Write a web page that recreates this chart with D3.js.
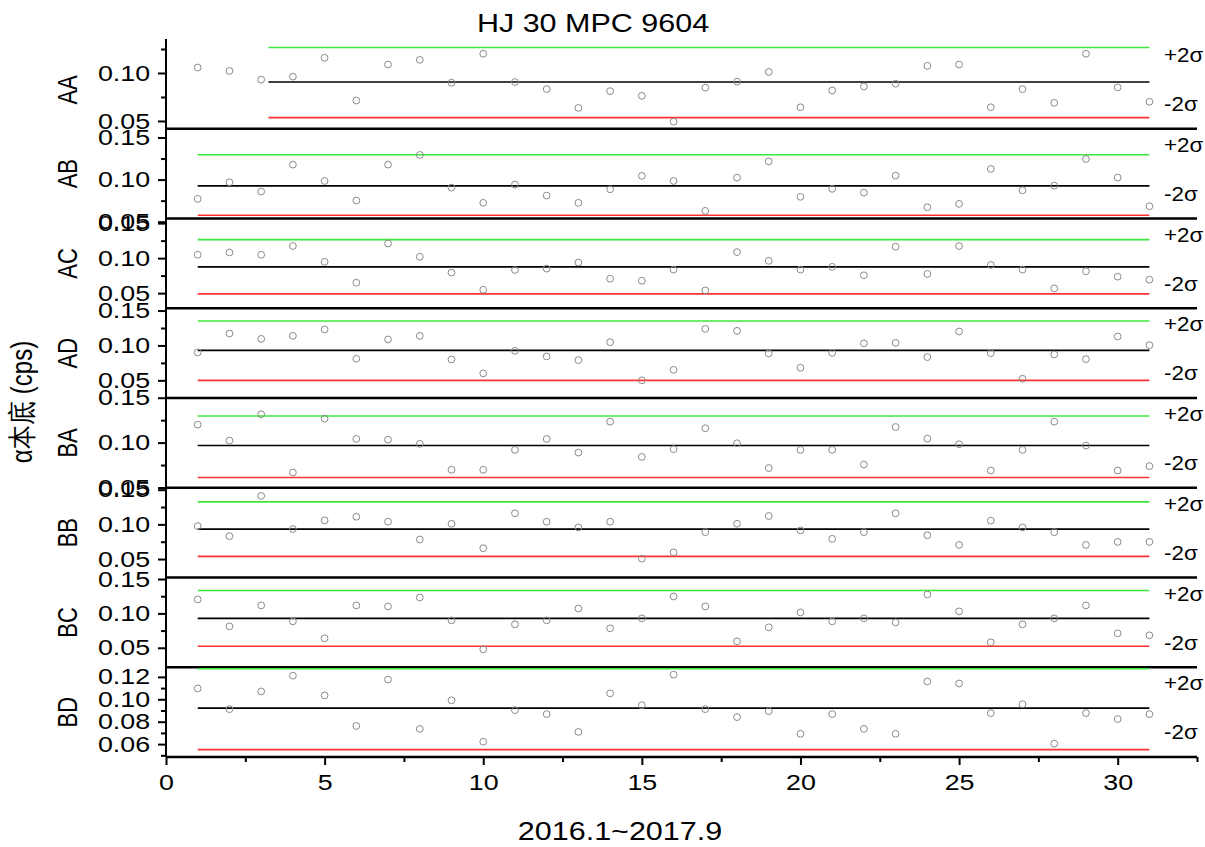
<!DOCTYPE html>
<html><head><meta charset="utf-8">
<script src="https://cdn.jsdelivr.net/npm/d3@7"></script>
<style>
body{margin:0;background:#fff;}
text{font-family:Arial,"Liberation Sans",sans-serif;}
</style></head>
<body><svg id="chart" width="1205" height="847"></svg>
<script>
const title = "HJ 30 MPC 9604";
const xTitle = "2016.1~2017.9";
const yTitle = "α本底 (cps)";
const panels = ["AA","AB","AC","AD","BA","BB","BC","BD"];
const xs = d3.range(1, 32);
const xMajorTicks = [0,5,10,15,20,25,30];
const xMinorTicks = [2.5,7.5,12.5,17.5,22.5,27.5,32.5];

const vAA = [0.1057,0.1021,0.0931,0.0962,0.1158,0.0713,0.1088,0.1137,0.0899,0.1200,0.0906,0.0832,0.0636,0.0811,0.0762,0.0493,0.0847,0.0910,0.1011,0.0643,0.0818,0.0860,0.0888,0.1074,0.1088,0.0643,0.0832,0.0689,0.1200,0.0850,0.0700];
const vAB = [0.0771,0.0968,0.0858,0.1178,0.0984,0.0751,0.1178,0.1293,0.0905,0.0724,0.0941,0.0810,0.0724,0.0885,0.1044,0.0984,0.0629,0.1024,0.1217,0.0795,0.0890,0.0846,0.1047,0.0672,0.0712,0.1127,0.0873,0.0929,0.1245,0.1024,0.0684];
const vAC = [0.1048,0.1081,0.1048,0.1173,0.0947,0.0649,0.1210,0.1019,0.0793,0.0548,0.0831,0.0850,0.0937,0.0706,0.0677,0.0836,0.0539,0.1086,0.0961,0.0836,0.0875,0.0755,0.1163,0.0774,0.1173,0.0903,0.0836,0.0568,0.0813,0.0735,0.0692];
const vAD = [0.0900,0.1171,0.1094,0.1137,0.1229,0.0809,0.1086,0.1137,0.0800,0.0600,0.0923,0.0843,0.0790,0.1047,0.0500,0.0651,0.1237,0.1209,0.0886,0.0680,0.0894,0.1029,0.1037,0.0833,0.1200,0.0890,0.0523,0.0871,0.0804,0.1129,0.1004];
const vBA = [0.1200,0.1022,0.1316,0.0667,0.1267,0.1041,0.1033,0.0986,0.0697,0.0697,0.0919,0.1041,0.0889,0.1233,0.0841,0.0927,0.1160,0.0993,0.0716,0.0919,0.0919,0.0756,0.1174,0.1044,0.0982,0.0689,0.0919,0.1233,0.0967,0.0689,0.0738];
const vBB = [0.0975,0.0830,0.1411,0.0932,0.1058,0.1110,0.1038,0.0782,0.1009,0.0656,0.1160,0.1038,0.0956,0.1038,0.0506,0.0597,0.0888,0.1009,0.1121,0.0913,0.0791,0.0888,0.1160,0.0844,0.0704,0.1053,0.0956,0.0888,0.0704,0.0747,0.0747];
const vBC = [0.1203,0.0812,0.1116,0.0884,0.0638,0.1116,0.1101,0.1232,0.0899,0.0478,0.0841,0.0899,0.1072,0.0783,0.0928,0.1246,0.1101,0.0594,0.0797,0.1014,0.0884,0.0928,0.0870,0.1275,0.1029,0.0580,0.0841,0.0928,0.1116,0.0710,0.0681];
const vBD = [0.1097,0.0912,0.1070,0.1211,0.1035,0.0762,0.1176,0.0736,0.0991,0.0621,0.0903,0.0868,0.0709,0.1053,0.0947,0.1220,0.0912,0.0841,0.0894,0.0692,0.0868,0.0736,0.0692,0.1159,0.1141,0.0877,0.0956,0.0604,0.0877,0.0824,0.0868];
const values = [vAA,vAB,vAC,vAD,vBA,vBB,vBC,vBD];

// control limits: +2σ, mean, -2σ
const upper = [0.1266,0.1296,0.1264,0.1351,0.1297,0.1324,0.1333,0.1273];
const mean  = [0.0906,0.0925,0.0875,0.0929,0.0967,0.0932,0.0928,0.0921];
const lower = [0.0535,0.0577,0.0490,0.0500,0.0611,0.0539,0.0522,0.0551];
const lineStart = [3.23,1,1,1,1,1,1,1];
const lineEnd = 31;

// y-axis ranges and ticks per panel
const yDomains = [[0.0419,0.1354],[0.0538,0.1604],[0.0284,0.1566],[0.0247,0.1533],[0.0497,0.1497],[0.0234,0.1528],[0.0217,0.1522],[0.0485,0.1286]];
const yMajor = [[0.05,0.10],[0.05,0.10,0.15],[0.05,0.10,0.15],[0.05,0.10,0.15],[0.05,0.10,0.15],[0.05,0.10,0.15],[0.05,0.10,0.15],[0.06,0.08,0.10,0.12]];
const yMinor = [[0.075,0.125],[0.075,0.125],[0.075,0.125],[0.075,0.125],[0.075,0.125],[0.075,0.125],[0.075,0.125],[0.05,0.07,0.09,0.11]];

const svg = d3.select("#chart");
const L = 166, R = 1197, T = 39, B = 757;
const SX = 1.22; // horizontal stretch of lettering seen in the reference
const ph = (B - T) / panels.length;
const x = d3.scaleLinear().domain([0, 32.5]).range([L, R]);

const fmt = d3.format(".2f");

panels.forEach((name, i) => {
  const top = T + i * ph, bot = top + ph;
  const y = d3.scaleLinear().domain(yDomains[i]).range([bot, top]);
  const g = svg.append("g");

  // minor ticks
  const ax2 = g.append("g").attr("transform", `translate(${L},0)`)
    .call(d3.axisLeft(y).tickValues(yMinor[i]).tickSize(5).tickFormat(""));
  ax2.select(".domain").remove();
  ax2.selectAll("line").attr("stroke", "#000").attr("stroke-width", 2);
  const ax = g.append("g").attr("transform", `translate(${L},0)`)
    .call(d3.axisLeft(y).tickValues(yMajor[i]).tickSize(8).tickPadding(5).tickFormat(fmt));
  ax.select(".domain").remove();
  ax.selectAll("line").attr("stroke", "#000").attr("stroke-width", 2);
  ax.selectAll("text").attr("font-size", 22).attr("fill", "#000")
    .attr("font-family", "Arial, 'Liberation Sans', sans-serif")
    .attr("transform", `scale(${SX},1)`);

  // panel label
  g.append("text").attr("transform", `translate(77,${(top + bot) / 2 + (i === 0 ? 6 : 0)}) rotate(-90) scale(1,${SX})`)
    .attr("text-anchor", "middle").attr("font-size", 22).text(name);

  // limit lines
  const lines = [[upper[i], "#3de83d"], [mean[i], "#000"], [lower[i], "#ff3030"]];
  lines.forEach(([v, c]) => {
    g.append("line").attr("x1", x(lineStart[i])).attr("x2", x(lineEnd))
      .attr("y1", y(v)).attr("y2", y(v)).attr("stroke", c).attr("stroke-width", 1.6);
  });

  // points
  g.selectAll("circle").data(values[i]).join("circle")
    .attr("cx", (d, k) => x(xs[k])).attr("cy", d => y(d)).attr("r", 3.4)
    .attr("fill", "none").attr("stroke", "#8a8a8a").attr("stroke-width", 1);

  // sigma labels
  g.append("text").attr("transform", `translate(1164,${top + 16}) scale(1.12,1)`).attr("dy", "0.35em")
    .attr("font-size", 20).text("+2σ");
  g.append("text").attr("transform", `translate(1164,${top + 65}) scale(1.12,1)`).attr("dy", "0.35em")
    .attr("font-size", 20).text("-2σ");

  // separator line
  if (i < panels.length - 1) {
    svg.append("line").attr("x1", L).attr("x2", R).attr("y1", bot).attr("y2", bot)
      .attr("stroke", "#000").attr("stroke-width", 2.5);
  }
});

// left axis line
svg.append("line").attr("x1", L).attr("x2", L).attr("y1", T).attr("y2", B)
  .attr("stroke", "#000").attr("stroke-width", 2);

// x axis
const xg2 = svg.append("g").attr("transform", `translate(0,${B})`)
  .call(d3.axisBottom(x).tickValues(xMinorTicks).tickSize(5).tickFormat(""));
xg2.select(".domain").remove();
xg2.selectAll("line").attr("stroke", "#000").attr("stroke-width", 2);
const xg = svg.append("g").attr("transform", `translate(0,${B})`)
  .call(d3.axisBottom(x).tickValues(xMajorTicks).tickSize(8).tickPadding(9));
xg.select(".domain").attr("stroke", "#000").attr("stroke-width", 2.5).attr("d", `M${L},0H${R}`);
xg.selectAll("line").attr("stroke", "#000").attr("stroke-width", 2);
xg.selectAll("text").attr("font-size", 22).attr("fill", "#000")
  .attr("font-family", "Arial, 'Liberation Sans', sans-serif")
  .attr("transform", `scale(${SX},1)`);

// titles
svg.append("text").attr("transform", `translate(593,32) scale(${SX},1)`).attr("text-anchor", "middle")
  .attr("font-size", 25).text(title);
svg.append("text").attr("transform", `translate(620,840) scale(${SX},1)`).attr("text-anchor", "middle")
  .attr("font-size", 25).text(xTitle);
svg.append("text").attr("transform", `translate(32,402) rotate(-90) scale(1,${SX})`).attr("text-anchor", "middle")
  .attr("font-size", 24).text(yTitle);
</script></body></html>
